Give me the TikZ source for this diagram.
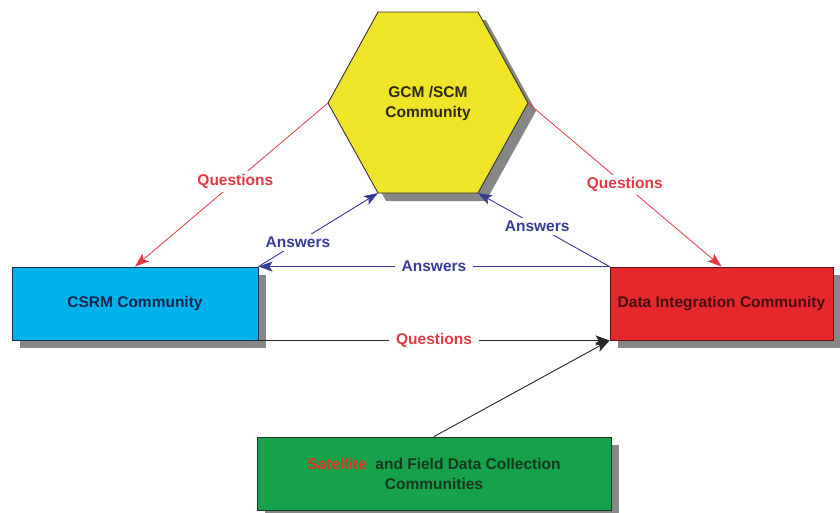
\documentclass[tikz,border=0pt]{standalone}
\usepackage{fontspec}
\setmainfont{Liberation Sans}
\usetikzlibrary{arrows.meta,shadows}

\definecolor{hexfill}{RGB}{240,228,40}
\definecolor{hextext}{RGB}{45,42,20}
\definecolor{csrmfill}{RGB}{0,178,236}
\definecolor{csrmdraw}{RGB}{15,50,80}
\definecolor{csrmtext}{RGB}{20,40,75}
\definecolor{difill}{RGB}{230,40,45}
\definecolor{didraw}{RGB}{90,20,20}
\definecolor{ditext}{RGB}{70,15,15}
\definecolor{greenfill}{RGB}{22,162,74}
\definecolor{greendraw}{RGB}{20,60,35}
\definecolor{greentext}{RGB}{25,55,30}
\definecolor{shadowgray}{RGB}{135,135,135}
\definecolor{qred}{RGB}{226,58,68}
\definecolor{ablue}{RGB}{55,60,150}
\definecolor{satred}{RGB}{222,52,40}

\begin{document}
\begin{tikzpicture}[x=1pt,y=-1pt,
  font=\bfseries\fontsize{15.5}{20}\selectfont,
  box/.style={draw=#1, line width=0.9pt, inner sep=0pt, align=center,
    drop shadow={shadow xshift=8pt, shadow yshift=-8pt, fill=shadowgray, opacity=1}},
  qline/.style={draw=qred, line width=0.8pt},
  aline/.style={draw=ablue, line width=0.9pt},
  kline/.style={draw=black!85, line width=0.9pt},
  tip/.style={-{Stealth[length=14pt,width=10pt,inset=3pt]}},
  qlabel/.style={text=qred, fill=white, inner xsep=7pt, inner ysep=3pt},
  alabel/.style={text=ablue, fill=white, inner xsep=7pt, inner ysep=3pt}]

\useasboundingbox (0,0) rectangle (840,512);

% hexagon with its shadow
\def\hexpath{(378,12)--(478,12)--(528,103)--(478,193)--(378,193)--(328,103)--cycle}
\fill[shadowgray, shift={(8,8)}] \hexpath;
\filldraw[fill=hexfill, draw=black!80, line width=0.9pt] \hexpath;
\coordinate (hexL) at (328,103);
\coordinate (hexR) at (528,103);
\coordinate (hexBL) at (378,193);
\coordinate (hexBR) at (478,193);
\node[text=hextext, align=center] (gcm) at (428,103) {GCM /SCM\\Community};

% community boxes
\node[box=csrmdraw, fill=csrmfill, minimum width=246pt, minimum height=73pt,
  text=csrmtext] (csrm) at (135,303.5) {CSRM Community};
\node[box=didraw, fill=difill, minimum width=223pt, minimum height=73pt,
  text=ditext] (di) at (721.5,303.5) {Data Integration Community};
\node[box=greendraw, fill=greenfill, minimum width=354pt, minimum height=73pt,
  text=greentext] (sat) at (434,473.5)
  {{\color{satred}Satellite}\ \ and Field Data Collection\\Communities};

% questions towards the outer communities
\draw[qline, tip] (hexL) -- node[qlabel, pos=0.48] {Questions} (csrm.north);
\draw[qline, tip] (hexR) -- node[qlabel, pos=0.5] {Questions} (di.north);

% answers flowing back
\draw[aline, tip] (csrm.north east) -- node[alabel, pos=0.33] {Answers} (hexBL);
\draw[aline, tip] (di.north west) -- node[alabel, pos=0.55] {Answers} (hexBR);
\draw[aline, tip] (di.north west) -- node[alabel, pos=0.5] {Answers} (csrm.north east);

% questions and data into integration
\draw[kline, tip] (csrm.south east) -- node[qlabel, pos=0.5] {Questions} (di.south west);
\draw[kline, tip] (sat.north) -- (di.south west);

\end{tikzpicture}
\end{document}
